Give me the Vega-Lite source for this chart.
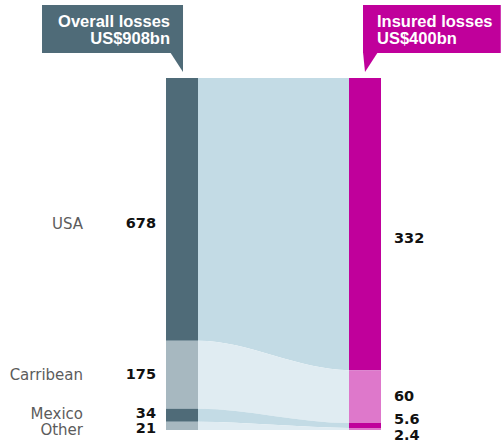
{
  "$schema": "https://vega.github.io/schema/vega-lite/v6.json",
  "width": 502,
  "height": 444,
  "autosize": {"type": "none"},
  "padding": 0,
  "background": "white",
  "config": {"view": {"stroke": null}, "axis": {"disable": true}},
  "datasets": {
    "regions": [
      {"region": "USA", "order": 1, "overall": 678, "insured": 332},
      {"region": "Carribean", "order": 2, "overall": 175, "insured": 60},
      {"region": "Mexico", "order": 3, "overall": 34, "insured": 5.6},
      {"region": "Other", "order": 4, "overall": 21, "insured": 2.4}
    ],
    "links": [
      {"region": "USA", "stage": -0.2119, "top": 0, "bottom": 0.7467},
      {"region": "USA", "stage": 0, "top": 0, "bottom": 0.7467},
      {"region": "USA", "stage": 1, "top": 0, "bottom": 0.83},
      {"region": "USA", "stage": 1.2119, "top": 0, "bottom": 0.83},
      {"region": "Carribean", "stage": -0.2119, "top": 0.7467, "bottom": 0.9394},
      {"region": "Carribean", "stage": 0, "top": 0.7467, "bottom": 0.9394},
      {"region": "Carribean", "stage": 1, "top": 0.83, "bottom": 0.98},
      {"region": "Carribean", "stage": 1.2119, "top": 0.83, "bottom": 0.98},
      {"region": "Mexico", "stage": -0.2119, "top": 0.9394, "bottom": 0.9769},
      {"region": "Mexico", "stage": 0, "top": 0.9394, "bottom": 0.9769},
      {"region": "Mexico", "stage": 1, "top": 0.98, "bottom": 0.994},
      {"region": "Mexico", "stage": 1.2119, "top": 0.98, "bottom": 0.994},
      {"region": "Other", "stage": -0.2119, "top": 0.9769, "bottom": 1},
      {"region": "Other", "stage": 0, "top": 0.9769, "bottom": 1},
      {"region": "Other", "stage": 1, "top": 0.994, "bottom": 1},
      {"region": "Other", "stage": 1.2119, "top": 0.994, "bottom": 1}
    ]
  },
  "resolve": {"scale": {"color": "independent"}},
  "layer": [
    {
      "data": {"name": "links"},
      "mark": {"type": "area", "interpolate": "monotone"},
      "encoding": {
        "x": {"field": "stage", "type": "quantitative", "scale": {"domain": [-1.3113, 2.0132], "nice": false, "zero": false}},
        "y": {"field": "top", "type": "quantitative", "stack": null, "scale": {"domain": [-0.2216, 1.0398], "reverse": true, "nice": false, "zero": false}},
        "y2": {"field": "bottom"},
        "color": {"field": "region", "type": "nominal", "legend": null,
          "scale": {"domain": ["USA", "Carribean", "Mexico", "Other"], "range": ["#c3dbe5", "#e0ecf2", "#c3dbe5", "#e0ecf2"]}}
      }
    },
    {
      "data": {"name": "regions"},
      "transform": [{"stack": "overall", "groupby": [], "sort": [{"field": "order", "order": "ascending"}], "offset": "normalize", "as": ["o0", "o1"]}],
      "mark": {"type": "rect"},
      "encoding": {
        "x": {"datum": -0.2119},
        "x2": {"datum": 0},
        "y": {"field": "o0", "type": "quantitative"},
        "y2": {"field": "o1"},
        "color": {"field": "region", "type": "nominal", "legend": null,
          "scale": {"domain": ["USA", "Carribean", "Mexico", "Other"], "range": ["#4f6b78", "#a7b8c0", "#4f6b78", "#a7b8c0"]}}
      }
    },
    {
      "data": {"name": "regions"},
      "transform": [{"stack": "insured", "groupby": [], "sort": [{"field": "order", "order": "ascending"}], "offset": "normalize", "as": ["i0", "i1"]}],
      "mark": {"type": "rect"},
      "encoding": {
        "x": {"datum": 1},
        "x2": {"datum": 1.2119},
        "y": {"field": "i0", "type": "quantitative"},
        "y2": {"field": "i1"},
        "color": {"field": "region", "type": "nominal", "legend": null,
          "scale": {"domain": ["USA", "Carribean", "Mexico", "Other"], "range": ["#c0009b", "#de78cb", "#c0009b", "#de78cb"]}}
      }
    },
    {
      "data": {"values": [{}]},
      "layer": [
        {"mark": {"type": "rect", "color": "#4f6b78"},
         "encoding": {"x": {"datum": -1.0331}, "x2": {"datum": -0.0993}, "y": {"datum": -0.2074}, "y2": {"datum": -0.071}}},
        {"mark": {"type": "rect", "color": "#c0009b"},
         "encoding": {"x": {"datum": 1.0927}, "x2": {"datum": 2.005}, "y": {"datum": -0.2074}, "y2": {"datum": -0.071}}},
        {"mark": {"type": "point", "filled": true, "opacity": 1, "color": "#4f6b78", "size": 361, "strokeWidth": 0, "shape": "M-0.684,-1.1L0.684,-1.1L0.684,1Z"},
         "encoding": {"x": {"datum": -0.1424}, "y": {"datum": -0.044}}},
        {"mark": {"type": "point", "filled": true, "opacity": 1, "color": "#c0009b", "size": 361, "strokeWidth": 0, "shape": "M-0.789,-1.1L0.789,-1.1L-0.579,1Z"},
         "encoding": {"x": {"datum": 1.1424}, "y": {"datum": -0.044}}},
        {"mark": {"type": "text", "align": "right", "baseline": "alphabetic", "font": "Liberation Sans", "fontWeight": "bold", "fontSize": 16.5, "lineHeight": 17, "color": "white", "text": ["Overall losses", "US$908bn"]},
         "encoding": {"x": {"datum": -0.1854}, "y": {"datum": -0.1449}}},
        {"mark": {"type": "text", "align": "left", "baseline": "alphabetic", "font": "Liberation Sans", "fontWeight": "bold", "fontSize": 16.5, "lineHeight": 17, "color": "white", "text": ["Insured losses", "US$400bn"]},
         "encoding": {"x": {"datum": 1.1854}, "y": {"datum": -0.1449}}}
      ]
    },
    {
      "data": {"name": "regions"},
      "transform": [
        {"stack": "overall", "groupby": [], "sort": [{"field": "order", "order": "ascending"}], "offset": "normalize", "as": ["o0", "o1"]},
        {"fold": ["o0", "o1"], "as": ["edge", "pos"]}
      ],
      "layer": [
        {"transform": [{"filter": "datum.region == 'Carribean'"}],
         "layer": [
           {"mark": {"type": "text", "align": "right", "baseline": "middle", "font": "DejaVu Sans", "fontSize": 15, "color": "#5c5c5c"},
            "encoding": {"x": {"datum": -0.7616}, "y": {"field": "pos", "aggregate": "mean", "type": "quantitative"}, "text": {"field": "region"}}},
           {"mark": {"type": "text", "align": "right", "baseline": "middle", "font": "DejaVu Sans", "fontWeight": "bold", "fontSize": 14.5, "color": "#111111"},
            "encoding": {"x": {"datum": -0.2781}, "y": {"field": "pos", "aggregate": "mean", "type": "quantitative"}, "text": {"field": "overall", "type": "quantitative"}}}
         ]},
        {"transform": [{"filter": "datum.region == 'Mexico'"}],
         "layer": [
           {"mark": {"type": "text", "align": "right", "baseline": "middle", "font": "DejaVu Sans", "fontSize": 15, "color": "#5c5c5c", "dy": -1},
            "encoding": {"x": {"datum": -0.7616}, "y": {"field": "pos", "aggregate": "mean", "type": "quantitative"}, "text": {"field": "region"}}},
           {"mark": {"type": "text", "align": "right", "baseline": "middle", "font": "DejaVu Sans", "fontWeight": "bold", "fontSize": 14.5, "color": "#111111", "dy": -1},
            "encoding": {"x": {"datum": -0.2781}, "y": {"field": "pos", "aggregate": "mean", "type": "quantitative"}, "text": {"field": "overall", "type": "quantitative"}}}
         ]},
        {"transform": [{"filter": "datum.region == 'USA'"}],
         "layer": [
           {"mark": {"type": "text", "align": "right", "baseline": "middle", "font": "DejaVu Sans", "fontSize": 15, "color": "#5c5c5c", "dy": 14.5},
            "encoding": {"x": {"datum": -0.7616}, "y": {"field": "pos", "aggregate": "mean", "type": "quantitative"}, "text": {"field": "region"}}},
           {"mark": {"type": "text", "align": "right", "baseline": "middle", "font": "DejaVu Sans", "fontWeight": "bold", "fontSize": 14.5, "color": "#111111", "dy": 14.5},
            "encoding": {"x": {"datum": -0.2781}, "y": {"field": "pos", "aggregate": "mean", "type": "quantitative"}, "text": {"field": "overall", "type": "quantitative"}}}
         ]},
        {"transform": [{"filter": "datum.region == 'Other'"}],
         "layer": [
           {"mark": {"type": "text", "align": "right", "baseline": "middle", "font": "DejaVu Sans", "fontSize": 15, "color": "#5c5c5c", "dy": 4},
            "encoding": {"x": {"datum": -0.7616}, "y": {"field": "pos", "aggregate": "mean", "type": "quantitative"}, "text": {"field": "region"}}},
           {"mark": {"type": "text", "align": "right", "baseline": "middle", "font": "DejaVu Sans", "fontWeight": "bold", "fontSize": 14.5, "color": "#111111", "dy": 3.5},
            "encoding": {"x": {"datum": -0.2781}, "y": {"field": "pos", "aggregate": "mean", "type": "quantitative"}, "text": {"field": "overall", "type": "quantitative"}}}
         ]}
      ]
    },
    {
      "data": {"name": "regions"},
      "transform": [
        {"stack": "insured", "groupby": [], "sort": [{"field": "order", "order": "ascending"}], "offset": "normalize", "as": ["i0", "i1"]},
        {"fold": ["i0", "i1"], "as": ["edge", "pos"]}
      ],
      "layer": [
        {"transform": [{"filter": "datum.region == 'USA'"}],
         "mark": {"type": "text", "align": "left", "baseline": "middle", "font": "DejaVu Sans", "fontWeight": "bold", "fontSize": 14.5, "color": "#111111", "dy": 15},
         "encoding": {"x": {"datum": 1.298}, "y": {"field": "pos", "aggregate": "mean", "type": "quantitative"}, "text": {"field": "insured", "type": "quantitative"}}},
        {"transform": [{"filter": "datum.region == 'Carribean'"}],
         "mark": {"type": "text", "align": "left", "baseline": "middle", "font": "DejaVu Sans", "fontWeight": "bold", "fontSize": 14.5, "color": "#111111", "dy": 0.5},
         "encoding": {"x": {"datum": 1.298}, "y": {"field": "pos", "aggregate": "mean", "type": "quantitative"}, "text": {"field": "insured", "type": "quantitative"}}},
        {"transform": [{"filter": "datum.region == 'Mexico'"}],
         "mark": {"type": "text", "align": "left", "baseline": "middle", "font": "DejaVu Sans", "fontWeight": "bold", "fontSize": 14.5, "color": "#111111", "dy": -5},
         "encoding": {"x": {"datum": 1.298}, "y": {"field": "pos", "aggregate": "mean", "type": "quantitative"}, "text": {"field": "insured", "type": "quantitative"}}},
        {"transform": [{"filter": "datum.region == 'Other'"}],
         "mark": {"type": "text", "align": "left", "baseline": "middle", "font": "DejaVu Sans", "fontWeight": "bold", "fontSize": 14.5, "color": "#111111", "dy": 7},
         "encoding": {"x": {"datum": 1.298}, "y": {"field": "pos", "aggregate": "mean", "type": "quantitative"}, "text": {"field": "insured", "type": "quantitative"}}}
      ]
    }
  ]
}
